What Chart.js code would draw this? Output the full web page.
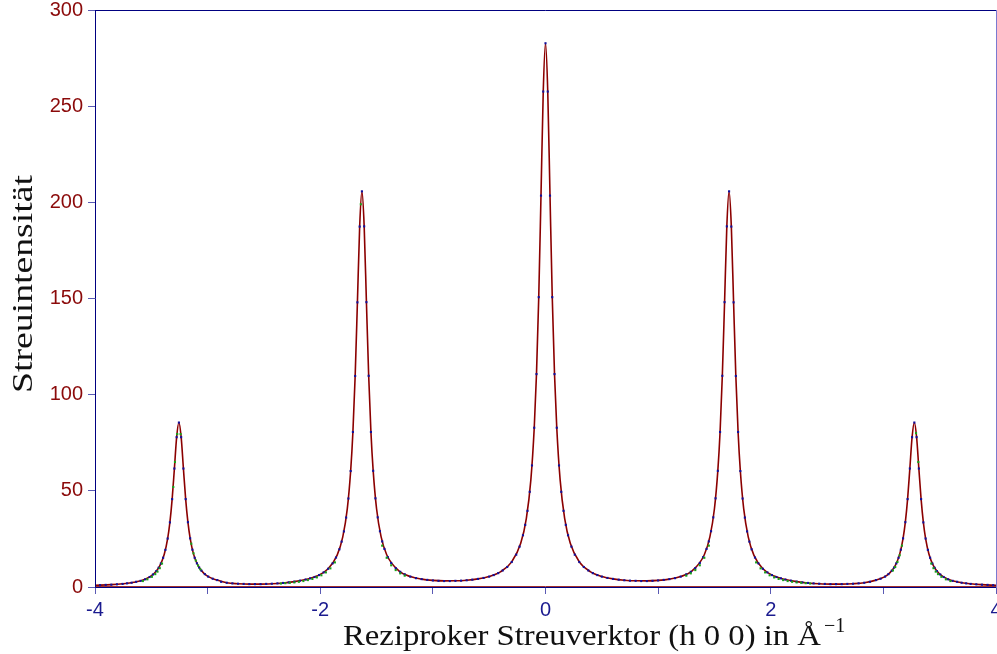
<!DOCTYPE html>
<html lang="de">
<head>
<meta charset="UTF-8" />
<title>Streuintensität</title>
<script src="https://cdn.jsdelivr.net/npm/chart.js"></script>
<style>
  html, body { margin: 0; padding: 0; background: #fff; }
  #wrap { position: relative; width: 997px; height: 654px; }
</style>
</head>
<body>
<div id="wrap"><canvas id="chart"></canvas></div>
<script>
// axis ticks
const xTickValues = [-4, -3, -2, -1, 0, 1, 2, 3, 4];
const xTickLabels = ['-4', '', '-2', '', '0', '', '2', '', '4'];
const yTickValues = [0, 50, 100, 150, 200, 250, 300];
const yTickLabels = ['0', '50', '100', '150', '200', '250', '300'];

const xTitle = 'Reziproker Streuverktor (h 0 0) in Å';
const xTitleSup = '−1';
const yTitle = 'Streuintensität';

// fitted curve (red line)
const fitX = [-4.0, -3.855, -3.755, -3.655, -3.555, -3.475, -3.425, -3.385, -3.355, -3.335, -3.315, -3.295, -3.275,
  -3.255, -3.235, -3.215, -3.195, -3.175, -3.155, -3.125, -3.085, -3.035, -2.985, -2.915, -2.83, -2.73, -2.63, -2.53,
  -2.43, -2.33, -2.23, -2.13, -2.03, -1.93, -1.85, -1.80, -1.76, -1.73, -1.71, -1.69, -1.67, -1.65, -1.63, -1.61,
  -1.59, -1.57, -1.55, -1.53, -1.50, -1.46, -1.41, -1.30, -1.20, -1.10, -1.00, -0.90, -0.80, -0.70, -0.60, -0.50,
  -0.40, -0.30, -0.22, -0.17, -0.13, -0.10, -0.08, -0.06, -0.04, -0.02, 0,
  0.02, 0.04, 0.06, 0.08, 0.10, 0.13, 0.17, 0.22, 0.30, 0.40, 0.50, 0.60, 0.70, 0.80, 0.90, 1.00, 1.10, 1.20, 1.30,
  1.41, 1.46, 1.50, 1.53, 1.55, 1.57, 1.59, 1.61, 1.63, 1.65, 1.67, 1.69, 1.71, 1.73, 1.76, 1.80, 1.85, 1.93, 2.03,
  2.13, 2.23, 2.33, 2.43, 2.53, 2.63, 2.73, 2.83, 2.935, 3.005, 3.055, 3.105, 3.145, 3.175, 3.195, 3.215, 3.235,
  3.255, 3.275, 3.295, 3.315, 3.335, 3.355, 3.375, 3.405, 3.445, 3.495, 3.575, 3.675, 3.775, 3.875, 4.0];
const fitY = [0.89, 1.22, 1.65, 2.43, 4.03, 6.99, 11.0, 17.05, 25.2, 33.6, 45.7, 61.6, 77.9,
  85.5, 77.9, 61.6, 45.7, 33.7, 25.3, 17.1, 11.09, 7.2, 5.13, 3.58, 2.2, 1.7, 1.5, 1.5,
  1.7, 2.1, 2.8, 3.88, 5.7, 9.49, 16.6, 26.1, 40.6, 60.3, 80.6, 109.7, 148.0, 187.4, 205.7, 187.5,
  148.1, 109.8, 80.6, 60.4, 40.7, 26.16, 16.76, 8.3, 5.43, 4.1, 3.45, 3.19, 3.23, 3.54, 4.21, 5.46,
  7.88, 13.05, 22.7, 35.7, 55.7, 82.8, 110.7, 150.7, 203.5, 257.6, 282.7,
  257.6, 203.5, 150.7, 110.7, 82.8, 55.7, 35.7, 22.7, 13.05, 7.88, 5.46, 4.21, 3.54, 3.23, 3.19, 3.45, 4.1, 5.43, 8.3,
  16.76, 26.16, 40.7, 60.4, 80.6, 109.8, 148.1, 187.5, 205.7, 187.4, 148.0, 109.7, 80.6, 60.3, 40.6, 26.1, 16.6, 9.49, 5.7,
  3.88, 2.8, 2.1, 1.7, 1.5, 1.5, 1.7, 2.2, 3.58, 5.13, 7.2, 11.09, 17.1, 25.3, 33.7, 45.7, 61.6,
  77.9, 85.5, 77.9, 61.6, 45.7, 33.6, 25.2, 17.05, 11.0, 6.99, 4.03, 2.43, 1.65, 1.22, 0.89];

// measured points, blue series
const blueX = [-3.955, -3.905, -3.855, -3.805, -3.755, -3.715, -3.675, -3.635, -3.595, -3.555, -3.515, -3.485, -3.455,
  -3.435, -3.415, -3.395, -3.375, -3.355, -3.335, -3.315, -3.295, -3.275, -3.255, -3.235, -3.215, -3.195, -3.175,
  -3.155, -3.135, -3.115, -3.095, -3.075, -3.055, -3.025, -2.995, -2.955, -2.915, -2.88, -2.83, -2.78, -2.73, -2.68,
  -2.63, -2.58, -2.53, -2.48, -2.43, -2.38, -2.33, -2.28, -2.23, -2.18, -2.13, -2.09, -2.05, -2.01, -1.97, -1.93,
  -1.89, -1.86, -1.83, -1.81, -1.79, -1.77, -1.75, -1.73, -1.71, -1.69, -1.67, -1.65, -1.63, -1.61, -1.59, -1.57,
  -1.55, -1.53, -1.51, -1.49, -1.47, -1.45, -1.43, -1.40, -1.37, -1.33, -1.29, -1.25, -1.20, -1.15, -1.10, -1.05,
  -1.00, -0.95, -0.90, -0.85, -0.80, -0.75, -0.70, -0.65, -0.60, -0.55, -0.50, -0.46, -0.42, -0.38, -0.34, -0.30,
  -0.26, -0.23, -0.20, -0.18, -0.16, -0.14, -0.12, -0.10, -0.08, -0.06, -0.04, -0.02,
  0, 0.02, 0.04, 0.06, 0.08, 0.10, 0.12, 0.14, 0.16, 0.18, 0.20, 0.23, 0.26, 0.30, 0.34, 0.38, 0.42, 0.46, 0.50,
  0.55, 0.60, 0.65, 0.70, 0.75, 0.80, 0.85, 0.90, 0.95, 1.00, 1.05, 1.10, 1.15, 1.20, 1.25, 1.29, 1.33, 1.37, 1.40,
  1.43, 1.45, 1.47, 1.49, 1.51, 1.53, 1.55, 1.57, 1.59, 1.61, 1.63, 1.65, 1.67, 1.69, 1.71, 1.73, 1.75, 1.77, 1.79,
  1.81, 1.83, 1.86, 1.89, 1.93, 1.97, 2.01, 2.05, 2.09, 2.13, 2.18, 2.23, 2.28, 2.33, 2.38, 2.43, 2.48, 2.53, 2.58,
  2.63, 2.68, 2.73, 2.78, 2.83, 2.88, 2.935, 2.975, 3.015, 3.045, 3.075, 3.095, 3.115, 3.135, 3.155, 3.175, 3.195,
  3.215, 3.235, 3.255, 3.275, 3.295, 3.315, 3.335, 3.355, 3.375, 3.395, 3.415, 3.435, 3.455, 3.475, 3.505, 3.535,
  3.575, 3.615, 3.655, 3.695, 3.735, 3.775, 3.825, 3.875, 3.925, 3.975];
const blueY = [0.95, 1.1, 1.2, 1.4, 1.6, 1.9, 2.2, 2.7, 3.2, 4.0, 5.2, 6.5, 8.3,
  10.0, 12.2, 15.2, 19.3, 25.2, 33.6, 45.7, 61.6, 77.9, 85.5, 77.9, 61.6, 45.7, 33.7,
  25.3, 19.4, 15.2, 12.3, 10.1, 8.5, 6.7, 5.4, 4.3, 3.6, 2.7, 2.2, 1.9, 1.7, 1.6,
  1.5, 1.5, 1.5, 1.6, 1.7, 1.9, 2.1, 2.4, 2.8, 3.3, 3.9, 4.5, 5.2, 6.2, 7.6, 9.5,
  12.3, 15.3, 19.6, 23.6, 28.9, 36.1, 46.0, 60.3, 80.6, 109.7, 148.0, 187.4, 205.7, 187.5, 148.1, 109.8,
  80.6, 60.4, 46.1, 36.2, 29.0, 23.7, 19.8, 15.5, 12.5, 9.8, 7.9, 6.6, 5.4, 4.6, 4.1, 3.7,
  3.4, 3.2, 3.1, 3.1, 3.2, 3.3, 3.5, 3.8, 4.2, 4.7, 5.4, 6.2, 7.2, 8.6, 10.4, 13.0,
  16.8, 21.0, 26.9, 32.3, 39.6, 49.5, 63.2, 82.8, 110.7, 150.7, 203.5, 257.6,
  282.7, 257.6, 203.5, 150.7, 110.7, 82.8, 63.2, 49.5, 39.6, 32.3, 26.9, 21.0, 16.8, 13.0, 10.4, 8.6, 7.2, 6.2, 5.4,
  4.7, 4.2, 3.8, 3.5, 3.3, 3.2, 3.1, 3.1, 3.2, 3.4, 3.7, 4.1, 4.6, 5.4, 6.6, 7.9, 9.8, 12.5, 15.5,
  19.8, 23.7, 29.0, 36.2, 46.1, 60.4, 80.6, 109.8, 148.1, 187.5, 205.7, 187.4, 148.0, 109.7, 80.6, 60.3, 46.0, 36.1, 28.9,
  23.6, 19.6, 15.3, 12.3, 9.5, 7.6, 6.2, 5.2, 4.5, 3.9, 3.3, 2.8, 2.4, 2.1, 1.9, 1.7, 1.6, 1.5, 1.5,
  1.5, 1.6, 1.7, 1.9, 2.2, 2.7, 3.6, 4.3, 5.4, 6.7, 8.5, 10.1, 12.3, 15.2, 19.4, 25.3, 33.7,
  45.7, 61.6, 77.9, 85.5, 77.9, 61.6, 45.7, 33.6, 25.2, 19.3, 15.2, 12.2, 10.0, 8.3, 6.5, 5.2,
  4.0, 3.2, 2.7, 2.2, 1.9, 1.6, 1.4, 1.2, 1.1, 0.95];

// measured points, green series
const greenX = [-3.575, -3.535, -3.495, -3.465, -3.445, -3.425, -3.405, -3.305, -3.29, -3.27, -3.24,
  -3.145, -3.125, -3.105, -3.085, -3.065,
  -2.35, -2.31, -2.27, -2.23, -2.19, -2.15, -2.11, -2.07, -2.03, -1.99, -1.95, -1.91, -1.87, -1.64,
  -1.45, -1.41, -1.37, -1.33, -1.29, -1.25,
  1.25, 1.29, 1.33, 1.37, 1.41, 1.45,
  1.87, 1.91, 1.95, 1.99, 2.03, 2.07, 2.11, 2.15, 2.19, 2.23, 2.27, 2.31, 2.35,
  3.085, 3.105, 3.125, 3.145, 3.165, 3.29, 3.31, 3.425, 3.445, 3.465, 3.485, 3.515, 3.555, 3.595];
const greenY = [3.1, 4.0, 5.3, 6.7, 8.0, 9.8, 12.2, 52, 65, 79.5, 79.5,
  22.5, 17.5, 13.8, 11.2, 9.2,
  1.8, 2.0, 2.2, 2.4, 2.7, 3.1, 3.6, 4.2, 5.0, 6.1, 7.6, 9.7, 12.8, 199,
  21.5, 15.2, 11.3, 8.8, 7.1, 5.9,
  5.9, 7.1, 8.8, 11.3, 15.2, 21.5,
  12.8, 9.7, 7.6, 6.1, 5.0, 4.2, 3.6, 3.1, 2.7, 2.4, 2.2, 2.0, 1.8,
  8.6, 10.4, 13.0, 16.5, 21.5, 80, 65, 12.2, 9.8, 8.0, 6.7, 5.3, 4.0, 3.1];

const toPoints = (xs, ys) => xs.map((x, i) => ({ x: x, y: ys[i] }));

const tickFont = { family: '"Liberation Sans", Arial, sans-serif', size: 20, lineHeight: 1 };
const titleFont = '"Liberation Serif", "Times New Roman", serif';

// frame, red zero line and the two axis titles
const frame = {
  id: 'frame',
  beforeDatasetsDraw(chart) {
    const { ctx, chartArea: a } = chart;
    const y0 = Math.round(chart.scales.y.getPixelForValue(0)) - 0.5;
    ctx.save();
    ctx.strokeStyle = '#a03030';
    ctx.lineWidth = 1;
    ctx.beginPath();
    ctx.moveTo(a.left, y0);
    ctx.lineTo(a.right, y0);
    ctx.stroke();
    ctx.restore();
  },
  afterDraw(chart) {
    const { ctx, chartArea: a } = chart;
    ctx.save();
    ctx.lineWidth = 1;
    ctx.strokeStyle = '#000080';
    ctx.beginPath();
    ctx.moveTo(a.left + 0.5, a.top + 0.5);
    ctx.lineTo(a.right, a.top + 0.5);
    ctx.moveTo(a.left + 0.5, a.top);
    ctx.lineTo(a.left + 0.5, a.bottom + 0.5);
    ctx.lineTo(a.right, a.bottom + 0.5);
    ctx.stroke();
    ctx.strokeStyle = '#7a7ad0';
    ctx.beginPath();
    ctx.moveTo(a.right + 0.5, a.top);
    ctx.lineTo(a.right + 0.5, a.bottom + 1);
    ctx.stroke();

    ctx.fillStyle = '#111';
    ctx.textBaseline = 'alphabetic';
    ctx.textAlign = 'left';
    ctx.font = '29px ' + titleFont;
    let w = ctx.measureText(xTitle).width;
    ctx.save();
    ctx.translate(343, 645);
    ctx.scale(478 / w, 1);
    ctx.fillText(xTitle, 0, 0);
    ctx.restore();
    ctx.font = '20px ' + titleFont;
    ctx.fillText(xTitleSup, 824, 632);

    ctx.font = '29px ' + titleFont;
    w = ctx.measureText(yTitle).width;
    ctx.translate(32, 284);
    ctx.rotate(-Math.PI / 2);
    ctx.scale(218 / w, 1);
    ctx.textAlign = 'center';
    ctx.fillText(yTitle, 0, 0);
    ctx.restore();
  }
};

new Chart(document.getElementById('chart'), {
  type: 'line',
  data: {
    datasets: [
      {
        label: 'Messung 2',
        data: toPoints(greenX, greenY),
        showLine: false,
        pointStyle: 'rect',
        pointRadius: 1.5,
        pointBorderWidth: 0,
        pointBackgroundColor: '#18a018',
        order: 0
      },
      {
        label: 'Messung 1',
        data: toPoints(blueX, blueY),
        showLine: false,
        pointStyle: 'rect',
        pointRadius: 1.5,
        pointBorderWidth: 0,
        pointBackgroundColor: '#10109c',
        order: 1
      },
      {
        label: 'Anpassung',
        data: toPoints(fitX, fitY),
        borderColor: '#8b0000',
        borderWidth: 1.6,
        pointRadius: 0,
        cubicInterpolationMode: 'monotone',
        order: 2
      }
    ]
  },
  options: {
    responsive: true,
    maintainAspectRatio: false,
    animation: false,
    layout: { autoPadding: false, padding: { top: 10, right: 1, left: 0, bottom: 0 } },
    plugins: { legend: { display: false }, tooltip: { enabled: false } },
    scales: {
      x: {
        type: 'linear',
        min: -4,
        max: 4,
        afterBuildTicks: s => { s.ticks = xTickValues.map(v => ({ value: v })); },
        afterFit: s => { s.height = 67; s.paddingLeft = 0; s.paddingRight = 0; },
        ticks: {
          callback: (v, i) => xTickLabels[i],
          color: '#1b1b8f',
          font: tickFont,
          padding: 6,
          maxRotation: 0,
          autoSkip: false
        },
        grid: { drawOnChartArea: false, drawTicks: true, tickLength: 7, tickColor: '#5a5ab4', tickWidth: 1 },
        border: { display: false }
      },
      y: {
        min: 0,
        max: 300,
        afterBuildTicks: s => { s.ticks = yTickValues.map(v => ({ value: v })); },
        afterFit: s => { s.width = 95; s.paddingTop = 0; s.paddingBottom = 0; },
        ticks: {
          callback: (v, i) => yTickLabels[i],
          color: '#8b0a0a',
          font: tickFont,
          padding: 5,
          autoSkip: false
        },
        grid: { drawOnChartArea: false, drawTicks: true, tickLength: 7, tickColor: '#5a5ab4', tickWidth: 1 },
        border: { display: false }
      }
    }
  },
  plugins: [frame]
});
</script>
</body>
</html>
